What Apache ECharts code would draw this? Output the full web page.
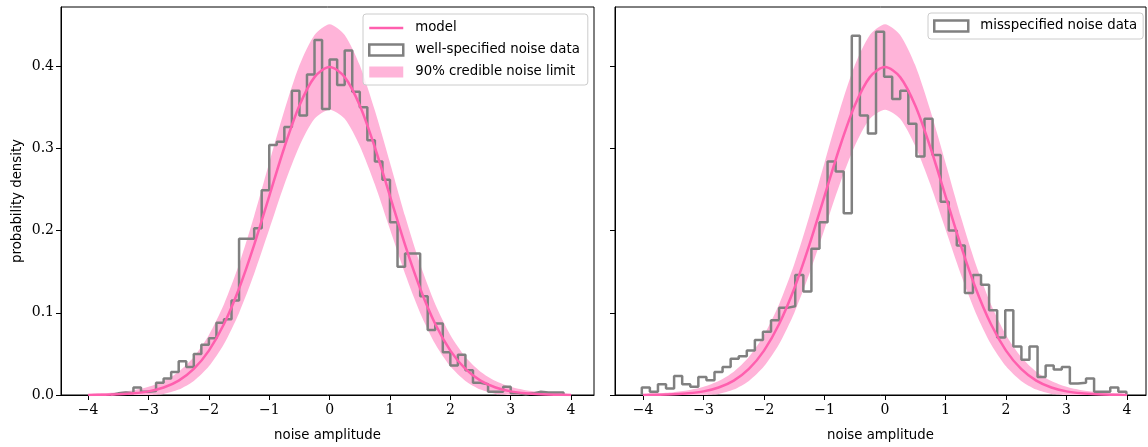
<!DOCTYPE html>
<html>
<head>
<meta charset="utf-8">
<script src="https://cdn.jsdelivr.net/npm/echarts@6/dist/echarts.min.js"></script>
<style>
html,body{margin:0;padding:0;background:#fff;}
#chart{width:1148px;height:447px;}
</style>
</head>
<body>
<div id="chart"></div>
<script>
// ---- data ----
const xTicks = [-4, -3, -2, -1, 0, 1, 2, 3, 4];
const yTicks = [0, 0.1, 0.2, 0.3, 0.4];

// left panel histogram (well-specified noise data)
const binStartL = -3.625;
const binWidthL = 0.125;
const histL = [0.002, 0.003, 0.002, 0.009, 0.004, 0.005, 0.015, 0.020, 0.028, 0.041,
  0.034, 0.050, 0.061, 0.069, 0.088, 0.092, 0.115, 0.190, 0.190, 0.203,
  0.249, 0.304, 0.308, 0.326, 0.370, 0.340, 0.390, 0.432, 0.348, 0.408,
  0.377, 0.419, 0.369, 0.350, 0.310, 0.284, 0.262, 0.210, 0.156, 0.172,
  0.172, 0.120, 0.079, 0.087, 0.052, 0.036, 0.049, 0.030, 0.015, 0.013,
  0.004, 0.004, 0.010, 0.002, 0.001, 0.002, 0.004, 0.003, 0.003, 0.003];

// right panel histogram (misspecified noise data)
const binStartR = -4.02;
const binWidthR = 0.1335;
const histR = [0.009, 0.004, 0.013, 0.008, 0.023, 0.013, 0.010, 0.022, 0.018, 0.028,
  0.034, 0.044, 0.047, 0.054, 0.067, 0.077, 0.091, 0.106, 0.108, 0.146,
  0.126, 0.178, 0.210, 0.284, 0.272, 0.221, 0.437, 0.340, 0.318, 0.442,
  0.387, 0.360, 0.370, 0.330, 0.290, 0.336, 0.292, 0.235, 0.200, 0.182,
  0.124, 0.146, 0.134, 0.103, 0.070, 0.103, 0.059, 0.043, 0.059, 0.022,
  0.036, 0.031, 0.034, 0.014, 0.015, 0.020, 0.004, 0.004, 0.009, 0.004];

// model curve and 90% credible band
const modelX = [-4, -3.75, -3.5, -3.25, -3, -2.75, -2.5, -2.25, -2, -1.75, -1.5, -1.25, -1, -0.75, -0.5, -0.25,
  0, 0.25, 0.5, 0.75, 1, 1.25, 1.5, 1.75, 2, 2.25, 2.5, 2.75, 3, 3.25, 3.5, 3.75, 4];
const modelY = [0.0001, 0.0004, 0.0009, 0.0020, 0.0044, 0.0091, 0.0175, 0.0317, 0.0540, 0.0863, 0.1295, 0.1826, 0.2420, 0.3011, 0.3521, 0.3867,
  0.3989, 0.3867, 0.3521, 0.3011, 0.2420, 0.1826, 0.1295, 0.0863, 0.0540, 0.0317, 0.0175, 0.0091, 0.0044, 0.0020, 0.0009, 0.0004, 0.0001];
const bandUp = [0.0009, 0.0020, 0.0034, 0.0057, 0.0099, 0.0170, 0.0284, 0.0463, 0.0731, 0.1105, 0.1590, 0.2177, 0.2825, 0.3460, 0.4010, 0.4380,
  0.4510, 0.4380, 0.4010, 0.3460, 0.2825, 0.2177, 0.1590, 0.1105, 0.0731, 0.0463, 0.0284, 0.0170, 0.0099, 0.0057, 0.0034, 0.0020, 0.0009];
const bandLo = [0, 0, 0, 0, 0, 0.0013, 0.0066, 0.0171, 0.0349, 0.0621, 0.0999, 0.1475, 0.2015, 0.2560, 0.3030, 0.3360,
  0.3470, 0.3360, 0.3030, 0.2560, 0.2015, 0.1475, 0.0999, 0.0621, 0.0349, 0.0171, 0.0066, 0.0013, 0, 0, 0, 0, 0];

// ---- styling ----
const PINK = '#ff5fae';
const BAND = '#ffb4d9';
const GRAY = '#808080';
const SANS = 'DejaVu Sans';
const SERIF = 'DejaVu Serif';

function stepData(start, width, heights) {
  const pts = [[start, 0]];
  heights.forEach((h, k) => pts.push([start + width * k, h]));
  pts.push([start + width * heights.length, 0]);
  return pts;
}

function fmtX(v) { return v < 0 ? '\u2212' + Math.abs(v) : String(v); }

function xAxis(idx, min, max) {
  return {
    type: 'value', gridIndex: idx, min: min, max: max,
    name: 'noise amplitude', nameLocation: 'middle', nameGap: 34,
    nameTextStyle: { fontFamily: SANS, fontSize: 13.3, color: '#000' },
    axisLine: { show: true, onZero: false, lineStyle: { color: '#000', width: 1 } },
    axisTick: { show: true, inside: false, length: 5, customValues: xTicks, lineStyle: { color: '#000', width: 1 } },
    axisLabel: { show: true, margin: 8, customValues: xTicks, formatter: fmtX, fontFamily: SERIF, fontSize: 14, color: '#000' },
    splitLine: { show: false }
  };
}
function yAxis(idx, showLabel) {
  return {
    type: 'value', gridIndex: idx, min: 0, max: 0.472,
    name: showLabel ? 'probability density' : '', nameLocation: 'middle', nameGap: 37,
    nameTextStyle: { fontFamily: SANS, fontSize: 13.3, color: '#000' },
    axisLine: { show: true, onZero: false, lineStyle: { color: '#000', width: 1 } },
    axisTick: { show: true, inside: false, length: 5, customValues: yTicks, lineStyle: { color: '#000', width: 1 } },
    axisLabel: { show: showLabel, margin: 7, customValues: yTicks, formatter: v => v.toFixed(1), fontFamily: SERIF, fontSize: 14, color: '#000' },
    splitLine: { show: false }
  };
}

function bandSeries(name, idx) {
  return {
    name: name, type: 'custom', xAxisIndex: idx, yAxisIndex: idx, z: 1,
    itemStyle: { color: BAND },
    encode: { x: 0, y: [1, 2] },
    data: modelX.map((x, i) => [x, bandLo[i], bandUp[i]]),
    renderItem: function (params, api) {
      if (params.dataIndex !== 0) return null;
      const pts = [];
      for (let i = 0; i < modelX.length; i++) pts.push(api.coord([modelX[i], bandUp[i]]));
      for (let i = modelX.length - 1; i >= 0; i--) pts.push(api.coord([modelX[i], bandLo[i]]));
      return { type: 'polygon', shape: { points: pts, smooth: 0.25 }, style: { fill: BAND } };
    }
  };
}
function modelSeries(name, idx) {
  return {
    name: name, type: 'line', xAxisIndex: idx, yAxisIndex: idx, z: 4,
    symbol: 'none', smooth: 0.3, color: PINK,
    lineStyle: { color: PINK, width: 2.5 },
    data: modelX.map((x, i) => [x, modelY[i]])
  };
}
function histSeries(name, idx, start, width, heights) {
  return {
    name: name, type: 'line', xAxisIndex: idx, yAxisIndex: idx, z: 3,
    symbol: 'none', step: 'end', color: GRAY,
    lineStyle: { color: GRAY, width: 2.5 },
    data: stepData(start, width, heights)
  };
}

const legendBase = {
  orient: 'vertical', selectedMode: false,
  backgroundColor: 'rgba(255,255,255,0.8)', borderColor: '#cccccc', borderWidth: 1, borderRadius: 3,
  itemWidth: 34, itemHeight: 11, itemGap: 8,
  textStyle: { fontFamily: SANS, fontSize: 13.3, color: '#000', lineHeight: 14, padding: [0, 0, 0, 7] }
};

const option = {
  animation: false,
  backgroundColor: '#fff',
  grid: [
    { left: 61, top: 7, width: 533, height: 388, show: true, borderColor: '#000', borderWidth: 1, backgroundColor: 'transparent' },
    { left: 615, top: 7, width: 531, height: 388, show: true, borderColor: '#000', borderWidth: 1, backgroundColor: 'transparent' }
  ],
  xAxis: [xAxis(0, -4.45, 4.38), xAxis(1, -4.463, 4.314)],
  yAxis: [yAxis(0, true), yAxis(1, false)],
  legend: [
    Object.assign({}, legendBase, {
      left: 363, top: 14, padding: [7, 8, 6, 5],
      data: [
        { name: 'model', icon: 'path://M0,0L34,0L34,2.5L0,2.5Z', itemStyle: { color: PINK, borderWidth: 0 } },
        { name: 'well-specified noise data', icon: 'rect', itemStyle: { color: '#fff', borderColor: GRAY, borderWidth: 2.5 } },
        { name: '90% credible noise limit', icon: 'rect', itemStyle: { color: BAND, borderWidth: 0 } }
      ]
    }),
    Object.assign({}, legendBase, {
      left: 928, top: 13, padding: [6, 6, 6, 5],
      data: [
        { name: 'misspecified noise data', icon: 'rect', itemStyle: { color: '#fff', borderColor: GRAY, borderWidth: 2.5 } }
      ]
    })
  ],
  series: [
    bandSeries('90% credible noise limit', 0),
    histSeries('well-specified noise data', 0, binStartL, binWidthL, histL),
    modelSeries('model', 0),
    bandSeries('band right', 1),
    histSeries('misspecified noise data', 1, binStartR, binWidthR, histR),
    modelSeries('model right', 1)
  ]
};

const chart = echarts.init(document.getElementById('chart'), null, { renderer: 'canvas' });
chart.setOption(option);
</script>
</body>
</html>
